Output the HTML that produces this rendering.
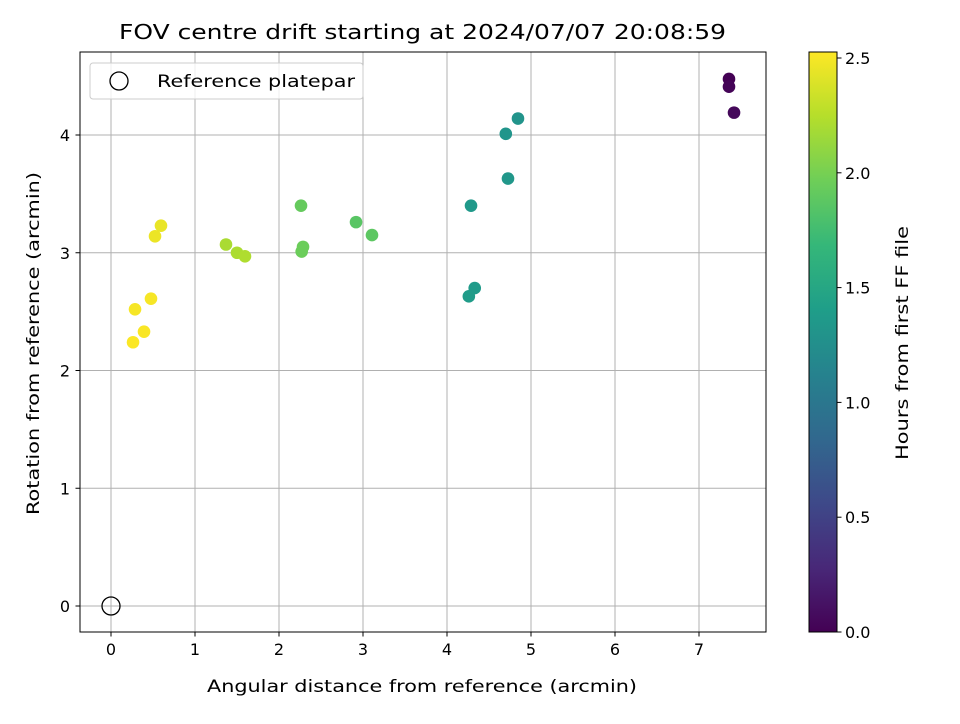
<!DOCTYPE html>
<html><head><meta charset="utf-8">
<style>
body{margin:0;background:#fff;font-family:"DejaVu Sans","Liberation Sans",sans-serif;}
svg text{font-family:"DejaVu Sans","Liberation Sans",sans-serif;}
</style></head>
<body>
<svg id="chart" width="960" height="720" viewBox="0 0 960 720" xmlns="http://www.w3.org/2000/svg">
<rect width="960" height="720" fill="#fff"/>
<text x="119" y="39" font-size="20" textLength="607" lengthAdjust="spacingAndGlyphs">FOV centre drift starting at 2024/07/07 20:08:59</text>
<g id="grid"></g>
<g id="xticks"></g>
<g id="yticks"></g>
<g id="points"></g>
<circle cx="111" cy="606" r="9" fill="none" stroke="#000" stroke-width="1.3"/>
<rect x="80" y="52" width="686" height="580" fill="none" stroke="#000" stroke-width="1"/>
<g>
<rect x="90" y="63" width="273" height="36" rx="3" fill="#fff" fill-opacity="0.8" stroke="#ccc"/>
<circle cx="119" cy="81" r="9" fill="none" stroke="#000" stroke-width="1.3"/>
<text x="157" y="87" font-size="17" textLength="198" lengthAdjust="spacingAndGlyphs">Reference platepar</text>
</g>
<text x="207" y="692" font-size="17" textLength="430" lengthAdjust="spacingAndGlyphs">Angular distance from reference (arcmin)</text>
<text transform="translate(39,515) rotate(-90)" font-size="17" textLength="343" lengthAdjust="spacingAndGlyphs">Rotation from reference (arcmin)</text>
<defs><linearGradient id="vir" x1="0" y1="1" x2="0" y2="0">
<stop offset="0" stop-color="#440154"/><stop offset="0.111" stop-color="#482878"/><stop offset="0.222" stop-color="#3e4989"/><stop offset="0.333" stop-color="#31688e"/><stop offset="0.444" stop-color="#26828e"/><stop offset="0.556" stop-color="#1f9e89"/><stop offset="0.667" stop-color="#35b779"/><stop offset="0.778" stop-color="#6ece58"/><stop offset="0.889" stop-color="#b5de2b"/><stop offset="1" stop-color="#fde725"/>
</linearGradient></defs>
<rect x="809" y="52" width="28" height="580" fill="url(#vir)" stroke="#000" stroke-width="1"/>
<g id="cticks"></g>
<text transform="translate(908,460) rotate(-90)" font-size="17" textLength="234" lengthAdjust="spacingAndGlyphs">Hours from first FF file</text>
</svg>
<script>
const xs=[7.357,7.357,7.417,4.845,4.70,4.726,4.286,4.33,4.26,3.107,2.917,2.262,2.286,2.27,1.369,1.5,1.595,0.595,0.524,0.476,0.286,0.393,0.262];
const ys=[4.476,4.41,4.19,4.14,4.01,3.63,3.40,2.70,2.63,3.15,3.26,3.40,3.05,3.01,3.07,3.0,2.97,3.23,3.14,2.61,2.52,2.33,2.24];
const hours=[0.0,0.02,0.05,1.30,1.31,1.33,1.35,1.37,1.38,1.88,1.86,1.92,1.95,1.95,2.20,2.21,2.22,2.45,2.46,2.50,2.50,2.51,2.52];
const xTicks=[0,1,2,3,4,5,6,7];
const yTicks=[0,1,2,3,4];
const cTicks=[0.0,0.5,1.0,1.5,2.0,2.5];
const NS="http://www.w3.org/2000/svg";
const X=v=>111+v*84, Y=v=>606-v*117.75, C=v=>632-v*229.6;
const cmax=2.5261;
const vir=["#440154","#482878","#3e4989","#31688e","#26828e","#1f9e89","#35b779","#6ece58","#b5de2b","#fde725"];
function hex(h){return [1,3,5].map(i=>parseInt(h.substr(i,2),16));}
function cmap(v){let t=Math.max(0,Math.min(1,v/cmax))*(vir.length-1);let i=Math.min(Math.floor(t),vir.length-2),f=t-i;const a=hex(vir[i]),b=hex(vir[i+1]);return "rgb("+a.map((c,k)=>Math.round(c+(b[k]-c)*f)).join(",")+")";}
function mk(tag,attrs,parent){const e=document.createElementNS(NS,tag);for(const k in attrs)e.setAttribute(k,attrs[k]);parent.appendChild(e);return e;}
const grid=document.getElementById('grid'),xt=document.getElementById('xticks'),yt=document.getElementById('yticks'),pts=document.getElementById('points'),ct=document.getElementById('cticks');
xTicks.forEach(v=>{const x=X(v);
const g=mk('line',{x1:x,x2:x,y1:52,y2:632,stroke:'#b0b0b0','stroke-width':1},grid);


const t=mk('line',{x1:x,x2:x,y1:632,y2:636.5,stroke:'#000'},xt);


const l=mk('text',{x:x,y:655,'font-size':16,'text-anchor':'middle'},xt);l.textContent=v;

});
yTicks.forEach(v=>{const y=Y(v);
const g=mk('line',{x1:80,x2:766,y1:y,y2:y,stroke:'#b0b0b0','stroke-width':1},grid);


const t=mk('line',{x1:75.5,x2:80,y1:y,y2:y,stroke:'#000'},yt);


const l=mk('text',{x:70,y:y+6,'font-size':16,'text-anchor':'end'},yt);l.textContent=v;

});
xs.forEach((v,i)=>{const c=mk('circle',{cx:X(v),cy:Y(ys[i]),r:6.3,fill:cmap(hours[i])},pts);

});
cTicks.forEach(v=>{const y=C(v);
const t=mk('line',{x1:837,x2:841.5,y1:y,y2:y,stroke:'#000'},ct);


const l=mk('text',{x:845,y:y+6,'font-size':16},ct);l.textContent=v.toFixed(1);

});
</script>
</body></html>
